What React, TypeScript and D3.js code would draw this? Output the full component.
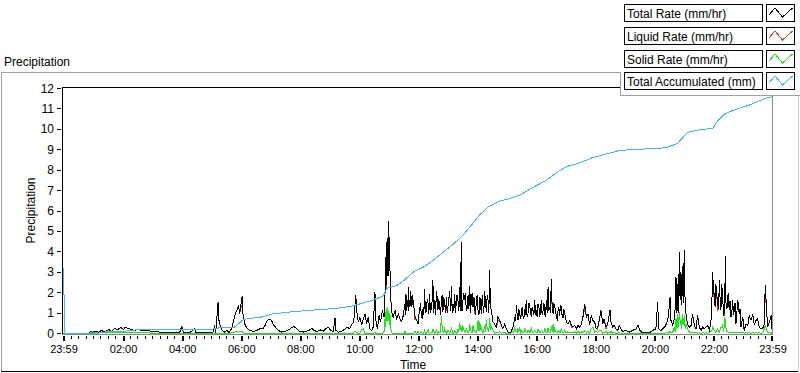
import React from 'react';
import * as d3 from 'd3';

// hours since 23:59 of the previous day
// [hour, total rate (mm/hr), solid rate (mm/hr)]
const rateSamples: [number, number, number][] = [
  [0, 0, 0], [0.88, 0, 0], [0.92, 0.1, 0.03], [1.0, 0.05, 0.02], [1.1, 0.12, 0.04], [1.2, 0.06, 0.02],
  [1.3, 0.15, 0.05], [1.4, 0.08, 0.03], [1.55, 0.2, 0.05], [1.65, 0.1, 0.03], [1.75, 0.25, 0.06],
  [1.85, 0.18, 0.04], [1.95, 0.3, 0.05], [2.05, 0.2, 0.04], [2.1, 0.32, 0.05], [2.2, 0.25, 0.04],
  [2.3, 0.2, 0.05], [2.4, 0.15, 0.03], [2.55, 0.2, 0.04], [2.7, 0.12, 0.03], [2.85, 0.15, 0.03],
  [3.0, 0.1, 0.02], [3.2, 0.08, 0], [3.4, 0.05, 0], [3.6, 0.06, 0], [3.8, 0.04, 0], [3.95, 0.05, 0],
  [4.02, 0.35, 0], [4.08, 0.05, 0], [4.3, 0.04, 0], [4.45, 0.25, 0], [4.5, 0.05, 0], [4.8, 0.03, 0],
  [5.0, 0.05, 0], [5.08, 0.07, 0], [5.13, 0.4, 0], [5.17, 0.05, 0], [5.25, 1.53, 0], [5.28, 0.64, 0],
  [5.33, 0.3, 0], [5.39, 0.15, 0], [5.47, 0.07, 0], [5.55, 0.15, 0], [5.62, 0.05, 0], [5.7, 0.23, 0.03],
  [5.78, 0.64, 0.05], [5.83, 0.96, 0.08], [5.89, 1.13, 0.1], [5.94, 1.37, 0.06], [5.98, 0.96, 0.1],
  [6.04, 1.6, 0.08], [6.07, 1.85, 0.1], [6.09, 0.96, 0.05], [6.11, 0.8, 0.03], [6.16, 0.44, 0],
  [6.24, 0.23, 0], [6.33, 0.15, 0], [6.44, 0.1, 0], [6.55, 0.15, 0], [6.67, 0.23, 0], [6.78, 0.23, 0],
  [6.84, 0.4, 0], [6.92, 0.64, 0], [7.01, 0.72, 0], [7.06, 0.64, 0], [7.12, 0.44, 0], [7.21, 0.28, 0],
  [7.29, 0.15, 0], [7.4, 0.07, 0], [7.51, 0.1, 0], [7.63, 0.18, 0], [7.74, 0.28, 0], [7.82, 0.34, 0],
  [7.91, 0.23, 0], [8.0, 0.1, 0], [8.13, 0.07, 0], [8.25, 0.11, 0], [8.36, 0.18, 0], [8.42, 0.26, 0],
  [8.5, 0.15, 0], [8.59, 0.1, 0], [8.7, 0.18, 0], [8.81, 0.11, 0], [8.9, 0.23, 0], [8.98, 0.31, 0],
  [9.06, 0.15, 0], [9.15, 0.1, 0], [9.21, 0.77, 0], [9.24, 0.15, 0], [9.32, 0.07, 0], [9.43, 0.11, 0],
  [9.55, 0.23, 0], [9.62, 0.31, 0], [9.71, 0.23, 0], [9.77, 0.44, 0], [9.83, 0.55, 0], [9.86, 0.88, 0.1],
  [9.91, 1.9, 0.1], [9.94, 1.13, 0.05], [10.0, 0.55, 0], [10.05, 0.8, 0], [10.11, 0.4, 0.2],
  [10.17, 0.72, 0.23], [10.22, 0.96, 0], [10.28, 0.47, 0], [10.33, 0.8, 0], [10.39, 0.23, 0],
  [10.45, 0.15, 0], [10.5, 0.31, 0], [10.56, 2.02, 0.05], [10.59, 0.64, 0], [10.64, 0.23, 0],
  [10.7, 0.88, 0], [10.75, 0.55, 0], [10.81, 1.13, 0], [10.87, 0.8, 0.1], [10.9, 1.94, 0.7],
  [10.92, 3.74, 0.3], [10.94, 2.6, 1.2], [10.97, 4.56, 0.6], [10.99, 3.25, 1.3], [11.01, 5.53, 0.8],
  [11.03, 3.58, 1.1], [11.06, 4.72, 0.5], [11.08, 2.43, 0.9], [11.1, 1.62, 0.2], [11.14, 0.96, 0.03],
  [11.18, 0.8, 0], [11.24, 1.13, 0], [11.29, 0.72, 0], [11.35, 0.96, 0], [11.41, 0.72, 0],
  [11.46, 0.6, 0], [11.52, 0.88, 0.02], [11.58, 1.45, 0.1], [11.61, 1.94, 0.02], [11.66, 1.62, 0],
  [11.69, 2.27, 0], [11.72, 1.62, 0], [11.77, 2.1, 0], [11.81, 1.29, 0], [11.86, 1.45, 0],
  [11.91, 0.88, 0.1], [11.97, 0.64, 0],
  [12.02, 0.47, 0.11], [12.07, 1.13, 0], [12.13, 0.88, 0.07], [12.19, 1.29, 0], [12.24, 2.19, 0.15],
  [12.3, 1.13, 0], [12.36, 1.45, 0.18], [12.41, 1.94, 0], [12.47, 1.29, 0.03], [12.52, 2.6, 0.23],
  [12.58, 1.62, 0], [12.64, 2.1, 0.15], [12.69, 1.13, 0], [12.75, 1.29, 0.05], [12.81, 1.62, 0.88],
  [12.86, 1.04, 0.1], [12.92, 1.45, 0.23], [12.98, 1.78, 0], [13.03, 1.29, 0.15], [13.09, 2.1, 0],
  [13.15, 2.35, 0.31], [13.2, 1.45, 0], [13.26, 1.94, 0.15], [13.31, 1.45, 0], [13.37, 1.62, 0.23],
  [13.43, 2.27, 0.5], [13.48, 4.47, 0.31], [13.53, 1.45, 0.4], [13.6, 1.62, 0.1], [13.65, 1.13, 0.23],
  [13.71, 1.86, 0.05], [13.77, 2.35, 0.47], [13.82, 1.62, 0.05], [13.88, 1.29, 0.4], [13.94, 1.21, 0.1],
  [13.99, 1.62, 0.05], [14.05, 1.13, 0.64], [14.11, 1.78, 0.55], [14.16, 0.96, 0.31], [14.22, 1.29, 0.05],
  [14.27, 2.1, 0.34], [14.33, 1.04, 0.64], [14.39, 1.62, 0.23], [14.44, 3.09, 0.77], [14.5, 1.13, 0.31],
  [14.56, 0.55, 0.15], [14.61, 0.47, 0.02], [14.67, 0.31, 0.07], [14.72, 0.8, 0.02], [14.78, 0.64, 0.1],
  [14.84, 0.4, 0], [14.89, 0.23, 0.05], [14.95, 0.47, 0.05], [15.01, 0.23, 0], [15.06, 0.07, 0],
  [15.15, 0.02, 0], [15.23, 0.31, 0.11], [15.29, 0.8, 0.31], [15.35, 1.37, 0.1], [15.4, 0.64, 0.23],
  [15.46, 0.96, 0.31], [15.52, 1.13, 0.15], [15.57, 0.88, 0.05], [15.63, 1.21, 0.28], [15.68, 1.62, 0.05],
  [15.74, 0.96, 0.18], [15.8, 1.29, 0.05], [15.85, 0.8, 0.31], [15.91, 1.13, 0.05], [15.97, 1.62, 0.15],
  [16.02, 1.13, 0.05], [16.08, 1.45, 0.23], [16.14, 0.8, 0.05], [16.19, 1.62, 0.15], [16.25, 1.13, 0.05],
  [16.31, 0.96, 0.23], [16.36, 1.62, 0.05], [16.42, 2.27, 0.26], [16.47, 1.29, 0.05], [16.53, 2.68, 0.34],
  [16.59, 0.96, 0.44], [16.64, 1.29, 0.23], [16.7, 0.8, 0.05], [16.76, 1.13, 0.15], [16.81, 0.88, 0.05],
  [16.87, 1.29, 0.23], [16.93, 0.8, 0.05], [16.98, 0.96, 0.15], [17.04, 0.55, 0.03], [17.09, 0.47, 0.08],
  [17.15, 0.64, 0.03], [17.21, 0.4, 0.07], [17.26, 0.31, 0.02], [17.32, 0.4, 0.08], [17.38, 0.23, 0.02],
  [17.43, 0.4, 0.11], [17.49, 0.31, 0.02], [17.55, 0.47, 0.07], [17.6, 0.8, 0.02], [17.66, 1.45, 0.15],
  [17.72, 0.8, 0.03], [17.77, 0.96, 0.11], [17.83, 0.4, 0.02], [17.88, 0.88, 0.23], [17.94, 0.64, 0.31],
  [18.0, 0.55, 0.05], [18.05, 0.23, 0.11],
  [18.1, 0.31, 0.03], [18.15, 0.64, 0.15], [18.21, 1.13, 0.15], [18.27, 0.47, 0.02], [18.32, 0.72, 0.05],
  [18.38, 0.31, 0.1], [18.44, 0.47, 0.02], [18.52, 1.16, 0.05], [18.55, 0.55, 0.1], [18.61, 0.31, 0.02],
  [18.66, 0.4, 0.03], [18.72, 0.23, 0.01], [18.78, 0.15, 0], [18.83, 0.4, 0.05], [18.89, 0.23, 0],
  [18.94, 0.11, 0], [19.06, 0.15, 0], [19.17, 0.07, 0], [19.28, 0.15, 0], [19.4, 0.23, 0], [19.47, 0.4, 0],
  [19.53, 0.15, 0], [19.62, 0.03, 0], [19.73, 0.07, 0], [19.85, 0.03, 0], [19.96, 0.15, 0], [20.07, 0.23, 0],
  [20.13, 1.53, 0], [20.16, 0.23, 0], [20.24, 0.15, 0], [20.3, 0.23, 0], [20.38, 0.34, 0], [20.43, 0.5, 0.05],
  [20.49, 0.8, 0.02], [20.55, 1.78, 0.11], [20.58, 0.64, 0.03], [20.64, 0.4, 0.05], [20.69, 0.72, 0.31],
  [20.72, 1.2, 0.1], [20.75, 2.76, 0.72], [20.78, 1.0, 0.2], [20.81, 1.29, 0.96], [20.84, 1.5, 0.3],
  [20.86, 3.98, 1.04], [20.9, 1.62, 0.4], [20.92, 1.9, 0.64], [20.94, 2.1, 0.2], [20.98, 2.76, 0.96],
  [21.0, 1.8, 0.4], [21.03, 4.07, 0.88], [21.07, 1.29, 0.2], [21.09, 0.96, 0.47], [21.14, 0.47, 0.23],
  [21.2, 0.31, 0.07], [21.26, 0.4, 0.05], [21.31, 0.96, 0.07], [21.37, 0.4, 0.03], [21.43, 0.23, 0.03],
  [21.48, 0.88, 0.02], [21.54, 0.31, 0.03], [21.6, 0.15, 0.02], [21.65, 0.31, 0.03], [21.71, 0.23, 0.02],
  [21.77, 0.31, 0.03], [21.82, 0.4, 0.02], [21.88, 0.15, 0.03], [21.93, 0.55, 0.11], [21.99, 3.0, 0.31],
  [22.05, 1.78, 0.15], [22.1, 2.43, 0.05], [22.16, 1.45, 0.23], [22.22, 2.6, 0.05], [22.27, 1.13, 0.31],
  [22.33, 1.7, 0.4], [22.37, 0.88, 0.1], [22.39, 1.2, 0.8], [22.42, 3.82, 0.72], [22.45, 1.29, 0.23],
  [22.5, 1.78, 0.1], [22.55, 1.13, 0.07], [22.61, 0.8, 0.03], [22.67, 1.62, 0.03], [22.72, 1.13, 0.03],
  [22.78, 0.47, 0.03], [22.84, 1.62, 0.03], [22.89, 0.96, 0.03], [22.95, 0.31, 0.03], [23.01, 0.8, 0.03],
  [23.06, 0.15, 0.02], [23.12, 0.47, 0.03], [23.18, 0.4, 0.02], [23.23, 0.88, 0.03], [23.29, 0.64, 0.02],
  [23.35, 0.96, 0.03], [23.4, 0.4, 0.02], [23.46, 0.64, 0.03], [23.51, 0.72, 0.02], [23.57, 0.31, 0.03],
  [23.63, 0.23, 0.02], [23.68, 0.23, 0.03], [23.74, 0.47, 0.23], [23.77, 2.35, 0.4], [23.82, 1.13, 0.15],
  [23.85, 0.31, 0.03], [23.91, 0.55, 0.03], [23.97, 0.88, 0.02], [24.0, 0.23, 0.03],
];

// extra readings inside the dense, nearly filled bands (same columns)
const bandSamples: [number, number, number][] = [
  [10.91, 3.0, 0.5], [10.93, 2.2, 0.9], [10.955, 4.0, 0.8], [10.98, 2.8, 1.0], [11.0, 4.5, 1.1],
  [11.02, 2.8, 0.6], [11.045, 4.0, 0.9], [11.07, 3.0, 0.4], [11.09, 1.9, 0.3],
  [11.55, 1.2, 0.02], [11.595, 0.9, 0.02], [11.635, 1.1, 0], [11.675, 1.3, 0], [11.705, 1.1, 0],
  [11.745, 1.3, 0], [11.79, 1.6, 0], [11.835, 1.9, 0], [11.885, 1.2, 0.02],
  [12.045, 0.9, 0.03], [12.1, 1.5, 0.05], [12.16, 0.7, 0.02], [12.215, 0.9, 0.05], [12.27, 1.0, 0.03],
  [12.33, 1.7, 0.08], [12.385, 0.95, 0.03], [12.44, 1.0, 0.06], [12.495, 1.6, 0.04], [12.55, 1.0, 0.08],
  [12.61, 0.9, 0.03], [12.665, 1.8, 0.05], [12.72, 1.7, 0.1], [12.78, 0.9, 0.05], [12.835, 1.9, 0.3],
  [12.89, 1.8, 0.05], [12.95, 1.0, 0.1], [13.005, 1.0, 0.05], [13.06, 1.7, 0.08], [13.12, 1.1, 0.05],
  [13.175, 1.0, 0.12], [13.23, 1.1, 0.05], [13.285, 1.0, 0.1], [13.34, 1.9, 0.05], [13.4, 1.1, 0.1],
  [13.455, 1.1, 0.2], [13.505, 1.1, 0.1], [13.565, 2.0, 0.2], [13.625, 2.0, 0.05], [13.68, 1.2, 0.15],
  [13.74, 1.2, 0.05], [13.795, 1.0, 0.2], [13.85, 2.0, 0.05], [13.91, 1.8, 0.15], [13.965, 0.9, 0.05],
  [14.02, 1.9, 0.2], [14.08, 0.9, 0.1], [14.135, 1.5, 0.2], [14.19, 1.9, 0.05], [14.245, 1.0, 0.15],
  [14.3, 1.6, 0.1], [14.36, 1.9, 0.2], [14.415, 1.0, 0.1], [14.47, 1.3, 0.2],
  [15.26, 0.5, 0.05], [15.32, 0.6, 0.1], [15.375, 0.9, 0.05], [15.43, 1.2, 0.1], [15.49, 0.7, 0.05],
  [15.545, 1.3, 0.1], [15.6, 0.7, 0.05], [15.655, 0.9, 0.1], [15.71, 0.8, 0.05], [15.77, 1.5, 0.1],
  [15.825, 1.2, 0.05], [15.88, 1.3, 0.1], [15.94, 0.9, 0.05], [15.995, 0.9, 0.1], [16.05, 0.8, 0.05],
  [16.11, 1.3, 0.1], [16.165, 1.2, 0.05], [16.22, 0.9, 0.1], [16.28, 1.5, 0.05], [16.335, 0.8, 0.1],
  [16.39, 1.0, 0.05], [16.445, 1.1, 0.1], [16.5, 1.0, 0.05], [16.56, 1.2, 0.1], [16.615, 1.5, 0.05],
  [16.67, 1.2, 0.1], [16.73, 0.7, 0.05], [16.785, 1.3, 0.1], [16.84, 1.4, 0.05], [16.9, 0.8, 0.1],
  [16.955, 1.2, 0.05], [17.01, 0.8, 0.05],
  [20.735, 1.3, 0.3], [20.765, 2.0, 0.5], [20.795, 2.4, 0.4], [20.825, 1.0, 0.7], [20.85, 2.6, 0.6],
  [20.88, 1.9, 0.8], [20.91, 3.0, 0.5], [20.93, 1.4, 0.7], [20.96, 3.3, 0.6], [20.99, 1.5, 0.7],
  [21.015, 3.0, 0.6], [21.05, 2.0, 0.4],
  [21.96, 1.2, 0.1], [22.02, 2.2, 0.2], [22.075, 1.3, 0.1], [22.13, 1.9, 0.15], [22.19, 1.2, 0.1],
  [22.245, 1.6, 0.2], [22.3, 2.4, 0.3], [22.35, 1.3, 0.2], [22.41, 2.5, 0.5], [22.435, 1.7, 0.3],
  [22.475, 1.2, 0.1], [22.525, 2.0, 0.05], [22.58, 1.6, 0.05], [22.64, 1.0, 0.03], [22.695, 0.9, 0.03],
  [22.75, 1.5, 0.03], [22.81, 1.0, 0.03], [22.865, 1.4, 0.03], [22.92, 1.2, 0.03],
];

// where the liquid trace sits below the total trace: [hour, mm/hr below total]
const liquidGaps: [number, number][] = [
  [6.04, 0.25], [6.07, 0.55], [10.94, 0.4], [10.99, 0.4], [11.58, 0.3], [11.91, 0.2], [12.52, 0.3],
  [12.98, 0.3], [13.48, 0.4], [13.94, 0.2], [14.44, 0.3], [14.72, 0.2], [15.52, 0.15], [16.42, 0.3],
  [16.53, 0.4], [17.21, 0.1], [17.66, 0.2], [18.1, 0.1], [18.38, 0.1], [20.86, 0.5], [21.03, 0.5],
  [22.05, 0.3], [22.16, 0.3], [22.39, 0.3], [23.77, 0.4],
];

// [hour, total accumulated (mm)]
const accumulated: [number, number][] = [
  [0, 3.2], [0.03, 3.2], [0.035, 1.6], [0.06, 1.6], [0.065, 0], [0.9, 0], [1.3, 0.03], [1.5, 0.1],
  [2.0, 0.1], [2.3, 0.15], [2.6, 0.2], [5.0, 0.2], [5.2, 0.25], [5.4, 0.31], [5.8, 0.31], [6.0, 0.55],
  [6.1, 0.68], [6.3, 0.74], [6.7, 0.8], [7.1, 0.96], [7.6, 1.04], [8.2, 1.12], [8.8, 1.18], [9.3, 1.24],
  [9.7, 1.32], [10.05, 1.45], [10.4, 1.6], [10.7, 1.75], [10.85, 1.85], [10.95, 2.2], [11.3, 2.35],
  [11.5, 2.55], [11.9, 3.05], [12.2, 3.25], [12.5, 3.55], [12.8, 3.9], [13.15, 4.3], [13.5, 4.75],
  [13.85, 5.35], [14.1, 5.8], [14.4, 6.2], [14.8, 6.5], [15.1, 6.6], [15.5, 6.8], [15.9, 7.15],
  [16.35, 7.49], [16.7, 7.87], [17.05, 8.18], [17.5, 8.36], [17.9, 8.6], [18.4, 8.8], [18.8, 8.95],
  [19.3, 9.02], [20.0, 9.05], [20.4, 9.1], [20.8, 9.3], [20.95, 9.55], [21.15, 9.86], [21.55, 9.97],
  [22.0, 10.05], [22.15, 10.4], [22.4, 10.76], [22.75, 10.97], [23.2, 11.17], [23.55, 11.38],
  [23.8, 11.52], [24.0, 11.6],
];

const xTickLabels = ['23:59', '02:00', '04:00', '06:00', '08:00', '10:00', '12:00', '14:00', '16:00', '18:00', '20:00', '22:00', '23:59'];
const yTicks = [0, 1, 2, 3, 4, 5, 6, 7, 8, 9, 10, 11, 12];
const legendNames = ['Total Rate (mm/hr)', 'Liquid Rate (mm/hr)', 'Solid Rate (mm/hr)', 'Total Accumulated (mm)'];
const seriesColors = ['#000000', '#ff3030', '#18e818', '#40b8f0'];

const W = 800;
const H = 373;
const plot = { left: 63, right: 772, top: 88, bottom: 333 };
const font = "'Liberation Sans', Arial, sans-serif";

const App: React.FC = () => {
  const x = d3.scaleLinear().domain([0, 24]).range([plot.left, plot.right]);
  const y = d3.scaleLinear().domain([0, 12]).range([plot.bottom + 0.5, plot.top + 0.5]);

  const line = d3.line<[number, number]>().x(d => x(d[0])).y(d => y(d[1]));

  const rows = rateSamples.concat(bandSamples).sort((a, b) => a[0] - b[0]);
  const gapByHour = new Map(liquidGaps.map(g => [g[0], g[1]]));

  const total = rows.map(d => [d[0], d[1]] as [number, number]);
  const solid = rows.map(d => [d[0], d[2]] as [number, number]);
  const liquid = rows.map(d => [d[0], Math.max(0, d[1] - (gapByHour.get(d[0]) || 0))] as [number, number]);

  // major ticks on the even clock hours (axis starts at 23:59), minors every 15 min
  const last = xTickLabels.length - 1;
  const majorHours = xTickLabels.map((_, i) => (i === 0 ? 0 : i === last ? 24 : i * 2 + 1 / 60));
  const minorHours: number[] = [];
  for (let k = 1; k < 96; k++) {
    if (k % 8 !== 0) minorHours.push(k * 0.25 + 1 / 60);
  }

  const crisp = (v: number) => Math.round(v) + 0.5;
  const rowTop = (i: number) => 4 + i * 22.8;

  return (
    <div style={{ position: 'absolute', left: 0, top: 0 }}>
      <svg width={W} height={H} style={{ display: 'block', background: '#ffffff', fontFamily: font }}>
        <defs>
          <clipPath id="plotClip">
            <rect x={plot.left} y={plot.top} width={plot.right - plot.left} height={plot.bottom - plot.top + 1} />
          </clipPath>
        </defs>

        {/* outer frame */}
        <text x={4} y={66} fontSize={12} fill="#000">Precipitation</text>
        <line x1={1} x2={799} y1={72.5} y2={72.5} stroke="#a0a0a0" />
        <line x1={1.5} x2={1.5} y1={72} y2={371} stroke="#a0a0a0" />
        <line x1={1} x2={799} y1={371.5} y2={371.5} stroke="#000" />
        <line x1={798.5} x2={798.5} y1={72} y2={372} stroke="#d0d0d0" />

        {/* plot area */}
        <line x1={62} x2={773} y1={87.5} y2={87.5} stroke="#000" />
        <line x1={62.5} x2={62.5} y1={87} y2={335} stroke="#000" />
        <line x1={772.5} x2={772.5} y1={87} y2={335} stroke="#8a8a8a" />
        <line x1={62} x2={773} y1={334.5} y2={334.5} stroke="#8a8a8a" />

        {/* y axis */}
        {yTicks.map(t => (
          <g key={t}>
            <line x1={57} x2={61} y1={crisp(y(t) - 0.5)} y2={crisp(y(t) - 0.5)} stroke="#000" />
            <text x={54} y={y(t) + 4} fontSize={12} textAnchor="end" fill="#000">{t}</text>
          </g>
        ))}
        <text transform={`translate(35,${(plot.top + plot.bottom) / 2}) rotate(-90)`} fontSize={12} textAnchor="middle" fill="#000">Precipitation</text>

        {/* x axis */}
        {minorHours.map(h => (
          <line key={h} x1={crisp(x(h))} x2={crisp(x(h))} y1={336} y2={339} stroke="#000" />
        ))}
        {majorHours.map((h, i) => (
          <g key={i}>
            <rect x={Math.round(x(h)) - (i === last ? 1 : 0)} y={336} width={2} height={5} fill="#000" />
            <text x={x(h) + 1} y={353} fontSize={11} textAnchor="middle" fill="#000">{xTickLabels[i]}</text>
          </g>
        ))}
        <text x={413} y={369} fontSize={12} textAnchor="middle" fill="#000">Time</text>

        {/* data */}
        <g clipPath="url(#plotClip)" fill="none" strokeWidth={1} shapeRendering="crispEdges">
          <path d={line(liquid) || ''} stroke={seriesColors[1]} />
          <path d={line(total) || ''} stroke={seriesColors[0]} />
          <path d={line(solid) || ''} stroke={seriesColors[2]} />
          <path d={line(accumulated) || ''} stroke={seriesColors[3]} />
        </g>

        {/* legend */}
        <rect x={621} y={0} width={179} height={95.5} fill="#ffffff" />
        <line x1={620.5} x2={620.5} y1={72} y2={96} stroke="#a0a0a0" />
        <line x1={620} x2={800} y1={95.5} y2={95.5} stroke="#a0a0a0" />
        {legendNames.map((name, i) => {
          const top = Math.round(rowTop(i)) + 0.5;
          const sw = 766.5;
          const zig = d3.line()([
            [sw + 2, top + 11],
            [sw + 8.5, top + 3.5],
            [sw + 16, top + 12.5],
            [sw + 26, top + 3.5],
          ]);
          return (
            <g key={name}>
              <rect x={624.5} y={top} width={138} height={17} fill="#fff" stroke="#000" />
              <text x={627} y={top + 13} fontSize={12} fill="#000">{name}</text>
              <rect x={sw} y={top} width={28} height={17} fill="#fff" stroke="#000" />
              <path d={zig || ''} fill="none" stroke={seriesColors[i]} shapeRendering="crispEdges" />
            </g>
          );
        })}
      </svg>
    </div>
  );
};

export default App;
